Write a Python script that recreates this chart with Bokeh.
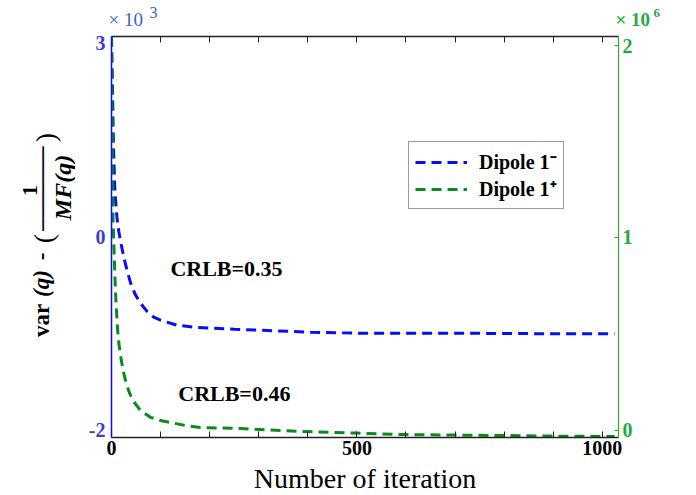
import math
from bokeh.plotting import figure
from bokeh.models import Range1d, LinearAxis, FixedTicker, Label, Legend, LegendItem
from bokeh.layouts import row, column
from bokeh.embed import file_html
from bokeh.resources import INLINE

# ---- data ----
iter_blue = [0, 2, 4, 7, 11, 15, 20, 25, 32, 39, 48, 59, 72, 86, 100, 134, 170, 210,
             250, 304, 405, 507, 700, 900, 1025]
var_blue = [2.0, 1.5, 0.9, 0.45, 0.2, 0.05, -0.08, -0.2, -0.34, -0.46, -0.57, -0.66,
            -0.74, -0.8, -0.83, -0.88, -0.9, -0.91, -0.92, -0.93, -0.95, -0.96, -0.96,
            -0.965, -0.965]
iter_green = [0, 1, 2, 3, 5, 7, 9, 12, 15, 19, 24, 30, 37, 45, 59, 80, 100, 120, 150,
              181, 263, 385, 500, 589, 700, 793, 900, 1025]
var_green = [2.0, 1.7, 1.35, 1.1, 0.95, 0.8, 0.68, 0.55, 0.47, 0.4, 0.33, 0.27, 0.22,
             0.18, 0.135, 0.1, 0.085, 0.075, 0.06, 0.05, 0.045, 0.03, 0.022, 0.015,
             0.012, 0.01, 0.007, 0.005]
x_ticks = [0, 500, 1000]
x_minor = [100, 200, 300, 400, 600, 700, 800, 900]
top_ticks = [0, 500, 1000]
top_minor = [100, 200, 300, 400, 600, 700, 800, 900]
left_ticks = [-1.93, 0, 1.94]
left_labels = {-1.93: "-2", 0: "0", 1.94: "3"}
right_ticks = [0.035, 1, 1.955]
right_labels = {0.035: "0", 1: "1", 1.955: "2"}
series_names = ["Dipole 1\u207b", "Dipole 1\u207a"]
crlb_text = ["CRLB=0.35", "CRLB=0.46"]
crlb_x = [120, 136]
crlb_y = [-0.31, -1.56]
x_title = "Number of iteration"

SERIF = "Liberation Serif"
BLUE = "#0a0aff"
GREEN = "#0a8a1e"
LBLUE = "#3c3cd2"
LGREEN = "#22aa44"

W, H = 696, 495
LEFT_W = 75      # strip holding the y title
TOP_H = 30       # strip holding the exponent markers
BOT_H = 33       # strip holding the x title
MAIN_W = W - LEFT_W
MID_H = H - TOP_H - BOT_H
FR_TOP, FR_BOT = 36, 437          # page rows of the plot frame
BORDER_T = FR_TOP - TOP_H
BORDER_B = TOP_H + MID_H - FR_BOT


def blank(width, height, xr, yr, bt=0, bb=0):
    f = figure(width=width, height=height, output_backend="svg", toolbar_location=None,
               x_range=Range1d(*xr), y_range=Range1d(*yr),
               x_axis_location=None, y_axis_location=None, min_border=0,
               min_border_left=0, min_border_right=0,
               min_border_top=bt, min_border_bottom=bb)
    f.grid.visible = False
    f.outline_line_color = None
    f.background_fill_color = "white"
    f.border_fill_color = "white"
    return f


def put(fig, x, y, text, size, color="black", style="normal", angle=0.0,
        align="center", baseline="middle", font=SERIF):
    fig.add_layout(Label(x=x, y=y, text=text, text_font=font, text_font_size=size,
                         text_color=color, text_font_style=style, angle=angle,
                         text_align=align, text_baseline=baseline))


# ---------------- main plot ----------------
p = figure(width=MAIN_W, height=MID_H, output_backend="svg", toolbar_location=None,
           x_range=Range1d(0, 1033), y_range=Range1d(-2, 2),
           min_border_left=111 - LEFT_W, min_border_right=78,
           min_border_top=BORDER_T, min_border_bottom=BORDER_B)
p.xgrid.visible = False
p.ygrid.visible = False
p.outline_line_color = None
p.background_fill_color = "white"
p.border_fill_color = "white"

p.extra_y_ranges = {"right": Range1d(0, 2)}

xa = p.xaxis[0]
xa.ticker = FixedTicker(ticks=x_ticks, minor_ticks=x_minor)
xa.major_tick_in = 6
xa.major_tick_out = 0
xa.minor_tick_in = 6
xa.minor_tick_out = 0
xa.axis_line_color = "#222222"
xa.axis_line_width = 1.5
xa.major_tick_line_color = "#222222"
xa.minor_tick_line_color = "#222222"
xa.major_label_text_font = SERIF
xa.major_label_text_font_style = "bold"
xa.major_label_text_font_size = "20px"
xa.major_label_text_color = "black"
xa.major_label_standoff = 3

ta = LinearAxis(ticker=FixedTicker(ticks=top_ticks, minor_ticks=top_minor))
ta.major_tick_in = 6
ta.major_tick_out = 0
ta.minor_tick_in = 6
ta.minor_tick_out = 0
ta.axis_line_color = "#222222"
ta.axis_line_width = 1.5
ta.major_tick_line_color = "#222222"
ta.minor_tick_line_color = "#222222"
ta.major_label_text_font_size = "1px"
ta.major_label_text_color = None
ta.major_label_standoff = 0
p.add_layout(ta, "above")

ya = p.yaxis[0]
ya.ticker = FixedTicker(ticks=left_ticks)
ya.major_label_overrides = left_labels
ya.major_tick_in = 0
ya.major_tick_out = 0
ya.minor_tick_line_color = None
ya.axis_line_color = BLUE
ya.axis_line_width = 1.5
ya.major_label_text_font = SERIF
ya.major_label_text_font_style = "bold"
ya.major_label_text_font_size = "20px"
ya.major_label_text_color = LBLUE
ya.major_label_standoff = 6

ra = LinearAxis(y_range_name="right", ticker=FixedTicker(ticks=right_ticks))
ra.major_label_overrides = right_labels
ra.major_tick_in = 4
ra.major_tick_out = 0
ra.minor_tick_line_color = None
ra.axis_line_color = "#33aa33"
ra.axis_line_width = 1.2
ra.major_tick_line_color = "#33aa33"
ra.major_label_text_font = SERIF
ra.major_label_text_font_style = "bold"
ra.major_label_text_font_size = "20px"
ra.major_label_text_color = LGREEN
ra.major_label_standoff = 4
p.add_layout(ra, "right")

r1 = p.line(iter_blue, var_blue, line_color=BLUE, line_width=3, line_dash="10 6")
r2 = p.line(iter_green, var_green, line_color=GREEN, line_width=3, line_dash="10 6",
            y_range_name="right")

legend = Legend(items=[LegendItem(label=series_names[0], renderers=[r1]),
                       LegendItem(label=series_names[1], renderers=[r2])],
                location=(297, 228), orientation="vertical")
legend.label_text_font = SERIF
legend.label_text_font_style = "bold"
legend.label_text_font_size = "20px"
legend.label_text_color = "black"
legend.glyph_width = 52
legend.glyph_height = 22
legend.label_height = 22
legend.label_standoff = 12
legend.spacing = 0
legend.padding = 6
legend.margin = 0
legend.border_line_color = "#333333"
legend.border_line_width = 1.5
legend.background_fill_alpha = 1
p.add_layout(legend, "center")

for t, x, y in zip(crlb_text, crlb_x, crlb_y):
    p.add_layout(Label(x=x, y=y, text=t, text_font=SERIF, text_font_style="bold",
                       text_font_size="22px", text_color="black",
                       text_baseline="middle", text_align="left"))

# ---------------- left strip: y title (coords: page x, H - page y) ----------------
lf = blank(LEFT_W, MID_H, (0, LEFT_W), (H - FR_BOT, H - FR_TOP), bt=BORDER_T, bb=BORDER_B)
A = math.pi / 2
put(lf, 41, H - 320, "var", "23px", style="bold", angle=A)
put(lf, 41, H - 283, "(q)", "23px", style="bold italic", angle=A)
put(lf, 41, H - 256, "-", "23px", style="bold", angle=A)
put(lf, 43, H - 238, "(", "28px", angle=A)
put(lf, 45, H - 137, ")", "28px", angle=A)
put(lf, 29, H - 190, "1", "22px", style="bold", angle=A)
put(lf, 42, H - 188, "\u2500" * 7, "20px", angle=A, font="DejaVu Sans")
put(lf, 62, H - 187, "MF(q)", "24px", style="bold italic", angle=A)

# ---------------- top strip: exponent markers (coords: page x, TOP_H - page y) ----
tf = blank(W, TOP_H, (0, W), (0, TOP_H))
put(tf, 108, TOP_H - 19, "\u00d7 10", "19px", color="#4060d0", align="left")
put(tf, 149, TOP_H - 12, "3", "16px", color="#4060d0", align="left")
put(tf, 615, TOP_H - 19, "\u00d7 10", "19px", color=LGREEN, style="bold", align="left")
put(tf, 653, TOP_H - 12, "6", "13px", color=LGREEN, style="bold", align="left")

# ---------------- bottom strip: x title (coords: page x, H - page y) ----------------
bf = blank(W, BOT_H, (0, W), (0, BOT_H))
put(bf, 364.5, H - 478, x_title, "28px")

layout = column(tf, row(lf, p, spacing=0), bf, spacing=0)

open("out.html", "w").write(file_html(layout, INLINE))
